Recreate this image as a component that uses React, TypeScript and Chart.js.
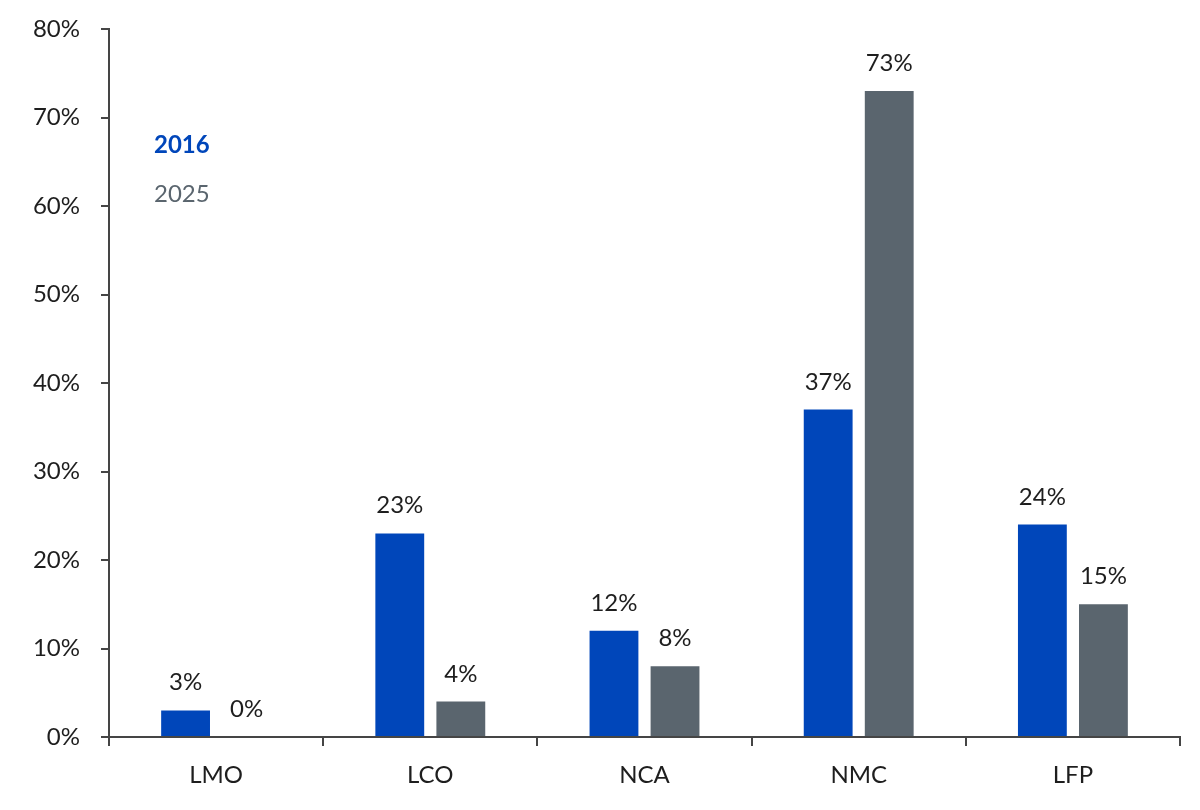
import React, { useEffect, useRef } from "react";
import { Chart, registerables } from "chart.js";

Chart.register(...registerables);

const categories = ["LMO", "LCO", "NCA", "NMC", "LFP"];
const series2016 = [3, 23, 12, 37, 24];
const series2025 = [0, 4, 8, 73, 15];
const seriesLabels = ["2016", "2025"];
const yTicks = [0, 10, 20, 30, 40, 50, 60, 70, 80];

const BLUE = "#0046BA";
const GRAY = "#5A656E";
const AXIS = "#454545";
const TEXT = "#1e1e1e";
const FONT = "Lato, 'Open Sans', sans-serif";

const valueLabels = {
  id: "valueLabels",
  afterDatasetsDraw(chart: any) {
    const ctx = chart.ctx;
    ctx.save();
    ctx.font = `24px ${FONT}`;
    ctx.fillStyle = TEXT;
    ctx.textAlign = "center";
    ctx.textBaseline = "alphabetic";
    chart.data.datasets.forEach((ds: any, di: number) => {
      const meta = chart.getDatasetMeta(di);
      meta.data.forEach((el: any, i: number) => {
        const v = ds.data[i];
        ctx.fillText(`${v}%`, el.x, el.y - 20);
      });
    });
    ctx.restore();
  },
};

const textLegend = {
  id: "textLegend",
  afterDraw(chart: any) {
    const ctx = chart.ctx;
    const area = chart.chartArea;
    ctx.save();
    ctx.textAlign = "left";
    ctx.textBaseline = "middle";
    chart.data.datasets.forEach((ds: any, di: number) => {
      ctx.font = `${di === 0 ? "bold " : ""}24px ${FONT}`;
      ctx.fillStyle = ds.backgroundColor;
      ctx.fillText(ds.label, area.left + 45, area.top + 116 + di * 49);
    });
    ctx.restore();
  },
};

export default function App() {
  const ref = useRef<HTMLCanvasElement | null>(null);

  useEffect(() => {
    document.body.style.margin = "0";
    if (!ref.current) return;
    const chart = new Chart(ref.current, {
      type: "bar",
      data: {
        labels: categories,
        datasets: [
          { label: seriesLabels[0], data: series2016, backgroundColor: BLUE },
          { label: seriesLabels[1], data: series2025, backgroundColor: GRAY },
        ],
      },
      options: {
        animation: false,
        responsive: false,
        devicePixelRatio: 1,
        layout: { padding: { left: 0, right: 20, top: 29, bottom: 0 } },
        plugins: {
          legend: { display: false },
          tooltip: { enabled: false },
        },
        datasets: {
          bar: { categoryPercentage: 0.57, barPercentage: 0.8 },
        },
        scales: {
          x: {
            grid: {
              drawOnChartArea: false,
              drawTicks: true,
              tickLength: 9,
              color: AXIS,
              lineWidth: 2,
            },
            border: { color: AXIS, width: 2 },
            ticks: {
              color: TEXT,
              font: { family: FONT, size: 24 },
              padding: 15,
            },
            afterFit(scale: any) {
              scale.height = 73;
              scale.paddingLeft = 0;
              scale.paddingRight = 0;
            },
          },
          y: {
            min: 0,
            max: 80,
            afterBuildTicks(scale: any) {
              scale.ticks = yTicks.map((v) => ({ value: v }));
            },
            grid: {
              drawOnChartArea: false,
              drawTicks: true,
              tickLength: 8,
              color: AXIS,
              lineWidth: 2,
            },
            border: { color: AXIS, width: 2 },
            ticks: {
              color: TEXT,
              font: { family: FONT, size: 24 },
              padding: 21,
              callback: (v: any) => `${v}%`,
            },
            afterFit(scale: any) {
              scale.width = 109;
              scale.paddingTop = 0;
              scale.paddingBottom = 0;
            },
          },
        },
      },
      plugins: [valueLabels, textLegend],
    });
    return () => chart.destroy();
  }, []);

  return (
    <div style={{ width: 1200, height: 810, background: "#fff" }}>
      <canvas ref={ref} width={1200} height={810} style={{ display: "block" }} />
    </div>
  );
}
